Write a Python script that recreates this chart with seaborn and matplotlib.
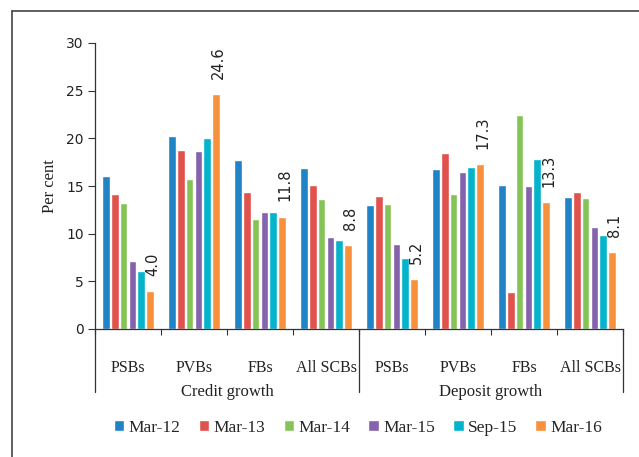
import matplotlib
matplotlib.use("Agg")
import matplotlib.pyplot as plt
from matplotlib.lines import Line2D
import seaborn as sns
import pandas as pd

sections = ["Credit growth", "Deposit growth"]
banks = ["PSBs", "PVBs", "FBs", "All SCBs"]
periods = ["Mar-12", "Mar-13", "Mar-14", "Mar-15", "Sep-15", "Mar-16"]

credit = {
    "PSBs":     [16.0, 14.2, 13.2, 7.1, 6.1, 4.0],
    "PVBs":     [20.2, 18.8, 15.7, 18.7, 20.0, 24.6],
    "FBs":      [17.7, 14.4, 11.5, 12.3, 12.3, 11.8],
    "All SCBs": [16.9, 15.1, 13.6, 9.6, 9.3, 8.8],
}
deposit = {
    "PSBs":     [13.0, 14.0, 13.1, 8.9, 7.5, 5.2],
    "PVBs":     [16.8, 18.5, 14.2, 16.5, 17.0, 17.3],
    "FBs":      [15.1, 3.9, 22.4, 15.0, 17.8, 13.3],
    "All SCBs": [13.8, 14.4, 13.7, 10.7, 9.9, 8.1],
}
colors = ["#1F83C6", "#E0524C", "#84C456", "#8462AC", "#05B3CB", "#F7913B"]

rows = []
for sec, d in zip(sections, [credit, deposit]):
    for b in banks:
        for p, v in zip(periods, d[b]):
            rows.append({"key": f"{sec}|{b}", "bank": b, "period": p, "value": v})
df = pd.DataFrame(rows)
order = [f"{s}|{b}" for s in sections for b in banks]

sns.set_theme(style="white")
plt.rcParams["font.family"] = ["DejaVu Sans"]
serif = "Liberation Serif"

fig = plt.figure(figsize=(6.39, 4.57), dpi=100)
ax = fig.add_axes([95/639, 1-329/457, (623-95)/639, (329-43)/457])

sns.barplot(data=df, x="key", y="value", hue="period", order=order,
            hue_order=periods, palette=colors, width=0.79, gap=0.13,
            saturation=1, ax=ax, legend=True)

ax.set_ylim(0, 30)
ax.set_xlim(-0.5, 7.5)
ax.set_yticks(range(0, 31, 5))
ax.tick_params(axis="y", labelsize=10, length=5, width=0.8, color="#333333",
               left=True, pad=3, labelcolor="#222222")
ax.set_ylabel("Per cent", fontsize=12, family=serif, color="#222222", labelpad=6)
ax.set_xlabel("")

ax.set_xticks(range(8))
ax.set_xticklabels([k.split("|")[1] for k in order], family=serif, fontsize=11.5,
                   color="#222222")
ax.tick_params(axis="x", length=0, pad=22)
ax.set_xticks([i - 0.5 for i in range(9)], minor=True)
ax.tick_params(axis="x", which="minor", length=4, width=0.8, color="#333333",
               bottom=True)

for s in ["top", "right"]:
    ax.spines[s].set_visible(False)
for s in ["left", "bottom"]:
    ax.spines[s].set_color("#333333")
    ax.spines[s].set_linewidth(0.9)

trans = ax.get_xaxis_transform()
ybot = -(392-329)/(329-43)
for xv in [-0.5, 3.5, 7.5]:
    ax.add_line(Line2D([xv, xv], [0, ybot], transform=trans, color="#333333",
                       lw=0.9, clip_on=False))
for i, sec in enumerate(sections):
    ax.text(1.5 + 4*i, ybot, sec, transform=trans,
            ha="center", va="center", family=serif, fontsize=12, color="#222222")

for bar in ax.containers[-1]:
    h = bar.get_height()
    ax.annotate(f"{h:.1f}", (bar.get_x() + bar.get_width()/2, h),
                xytext=(2, 11), textcoords="offset points", rotation=90,
                ha="center", va="bottom", fontsize=10.5, color="#222222")

handles, labels = ax.get_legend_handles_labels()
ax.get_legend().remove()
fig.legend(handles, labels, loc="center", bbox_to_anchor=(358/639, 1-428/457),
           ncol=6, frameon=False, handlelength=0.6, handleheight=0.6,
           handletextpad=0.25, columnspacing=1.05,
           prop={"family": serif, "size": 12.5})

# outer frame (cropped)
fig.add_artist(Line2D([12/639, 12/639], [0, 1-11/457], transform=fig.transFigure,
                      color="#444444", lw=1.2))
fig.add_artist(Line2D([12/639, 1], [1-11/457, 1-11/457], transform=fig.transFigure,
                      color="#444444", lw=1.2))

fig.savefig("out.png", dpi=100)
